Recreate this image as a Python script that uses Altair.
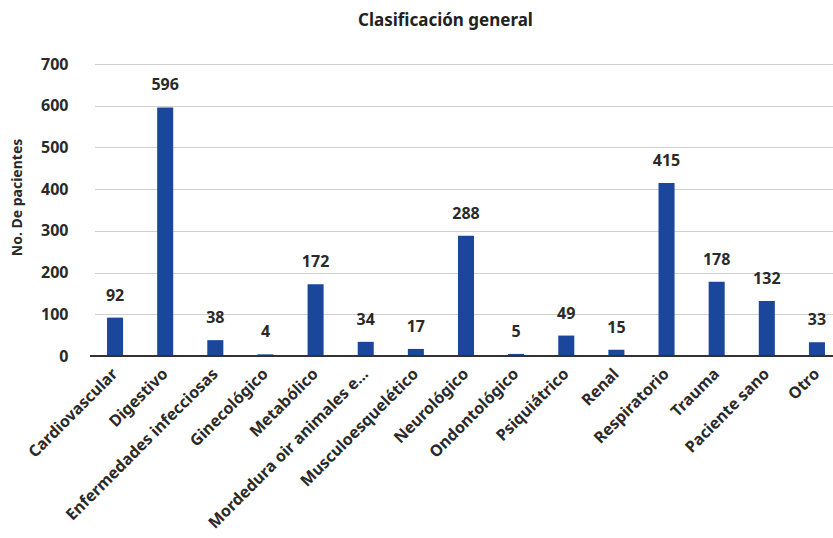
import altair as alt
import pandas as pd

categories = ["Cardiovascular", "Digestivo", "Enfermedades infecciosas", "Ginecológico",
              "Metabólico", "Mordedura oir animales e...", "Musculoesquelético", "Neurológico",
              "Ondontológico", "Psiquiátrico", "Renal", "Respiratorio", "Trauma",
              "Paciente sano", "Otro"]
values = [92, 596, 38, 4, 172, 34, 17, 288, 5, 49, 15, 415, 178, 132, 33]

df = pd.DataFrame({"cat": categories, "val": values})
FONT = "Noto Sans"
TXT = "#2a2a2a"
W, H = 743, 292

xscale = alt.Scale(paddingInner=0.68, paddingOuter=0.25, range=[4.5, 747.5])
x = alt.X("cat:N", sort=categories, title=None, scale=xscale,
          axis=alt.Axis(labelAngle=-45, labelAlign="right", labelBaseline="middle",
                        labelFont=FONT, labelFontSize=16, labelFontWeight="bold",
                        labelColor=TXT, ticks=False, labelPadding=15, domain=False,
                        labelLimit=300))
y = alt.Y("val:Q", title="No. De pacientes",
          scale=alt.Scale(domain=[0, 700], nice=False),
          axis=alt.Axis(values=[0, 100, 200, 300, 400, 500, 600, 700], ticks=False,
                        domain=False, labelFont=FONT, labelFontSize=16, labelFontWeight="bold",
                        labelColor=TXT, labelPadding=22, gridColor="#d0d0d0",
                        titleFont=FONT, titleFontSize=14, titleFontWeight="bold",
                        titleColor=TXT, titleAlign="center", titleY=133, titleX=-66))

bars = alt.Chart(df).mark_bar(color="#1a479b").encode(x=x, y=y)
text = alt.Chart(df).mark_text(dy=-22, font=FONT, fontSize=16, fontWeight="bold",
                               color=TXT).encode(x=alt.X("cat:N", sort=categories),
                                                 y="val:Q", text="val:Q")
baseline = alt.Chart(df).mark_rule(color="#333333", strokeWidth=1.5).encode(
    y=alt.datum(0), x=alt.value(0), x2=alt.value(W))

chart = (bars + baseline + text).properties(
    width=W, height=H,
    title=alt.TitleParams("Clasificación general", font=FONT, fontSize=17,
                          fontWeight="bold", color="#222222", offset=26, anchor="start",
                          dx=348),
    autosize=alt.AutoSizeParams(type="none"),
    padding={"left": 90, "top": 64, "right": 0, "bottom": 182},
).configure_view(stroke=None)

chart.save("out.html", embed_options={"renderer": "svg", "actions": False})
